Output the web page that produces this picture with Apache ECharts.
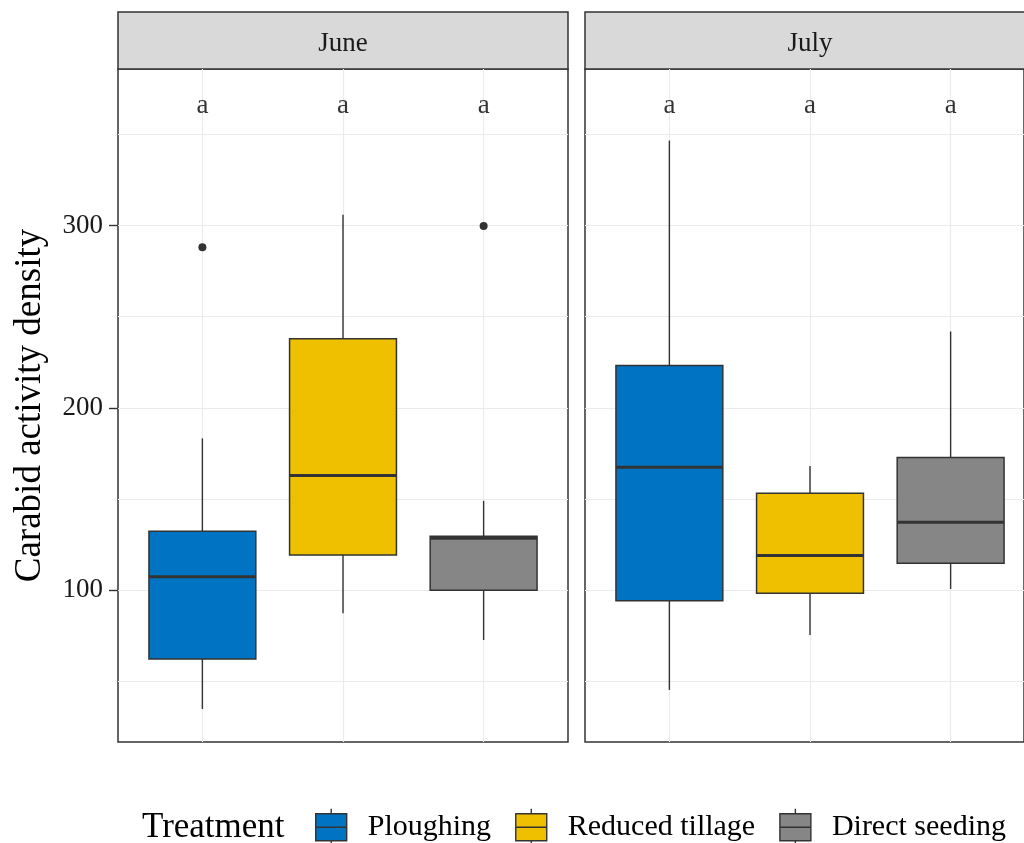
<!DOCTYPE html>
<html>
<head>
<meta charset="utf-8">
<script src="https://cdn.jsdelivr.net/npm/echarts@6/dist/echarts.min.js"></script>
<style>
  html, body { margin: 0; padding: 0; background: #ffffff; }
  #chart { width: 1024px; height: 843px; }
</style>
</head>
<body>
<div id="chart"></div>
<script>
// ---- data ----
const months = ['June', 'July'];
const treatments = ['Ploughing', 'Reduced tillage', 'Direct seeding'];
const treatmentColors = ['#0073C2', '#EFC000', '#868686'];
// per treatment: [lower whisker, Q1, median, Q3, upper whisker]
const juneStats = [
  [34.6, 62.1, 107.2, 132.2, 183.2],
  [87.2, 119.2, 162.8, 237.9, 306.0],
  [72.5, 99.8, 128.4, 129.4, 148.9]
];
const julyStats = [
  [45.1, 94.1, 167.4, 223.2, 346.7],
  [75.3, 98.2, 118.9, 153.1, 168.1],
  [100.5, 114.7, 137.2, 172.7, 241.9]
];
const juneOutliers = [['Ploughing', 288.2], ['Direct seeding', 299.8]];
const julyOutliers = [];
const juneLetters = ['a', 'a', 'a'];
const julyLetters = ['a', 'a', 'a'];
const letterLevel = 365.5;
const yTickValues = [100, 200, 300];
const yRange = [16.5, 386];

// ---- layout & style ----
const FONT = '"Liberation Serif", "Times New Roman", serif';
const INK = '#333333';
const GRID_LINE = '#EBEBEB';
const BOX_WIDTH = 0.76;            // fraction of category spacing
const PANEL_TOP = 69, PANEL_HEIGHT = 673, PANEL_WIDTH = 450;
const panelLefts = [118, 585];
const STRIP_TOP = 12;
const EXPAND = 0.6;                // discrete axis padding in category units
const unit = PANEL_WIDTH / (treatments.length - 1 + 2 * EXPAND);

const statsByMonth = [juneStats, julyStats];
const outliersByMonth = [juneOutliers, julyOutliers];
const lettersByMonth = [juneLetters, julyLetters];

const grids = [], xAxes = [], yAxes = [], series = [];

function renderBox(params, api) {
  const x = api.value(0);
  const lo = api.coord([x, api.value(1)]);
  const q1 = api.coord([x, api.value(2)]);
  const med = api.coord([x, api.value(3)]);
  const q3 = api.coord([x, api.value(4)]);
  const hi = api.coord([x, api.value(5)]);
  const half = api.size([1, 0])[0] * BOX_WIDTH / 2;
  const fill = api.visual('color');
  return {
    type: 'group',
    children: [
      { type: 'line', shape: { x1: lo[0], y1: lo[1], x2: q1[0], y2: q1[1] },
        style: { stroke: INK, lineWidth: 1.4 } },
      { type: 'line', shape: { x1: q3[0], y1: q3[1], x2: hi[0], y2: hi[1] },
        style: { stroke: INK, lineWidth: 1.4 } },
      { type: 'rect', shape: { x: q1[0] - half, y: q3[1], width: 2 * half, height: q1[1] - q3[1] },
        style: { fill: fill, stroke: INK, lineWidth: 1.5 } },
      { type: 'line', shape: { x1: med[0] - half, y1: med[1], x2: med[0] + half, y2: med[1] },
        style: { stroke: INK, lineWidth: 3 } }
    ]
  };
}

months.forEach((month, m) => {
  const left = panelLefts[m];
  const outer = grids.length;
  // panel frame + horizontal grid lines
  grids.push({ left: left, top: PANEL_TOP, width: PANEL_WIDTH, height: PANEL_HEIGHT,
    show: true, borderColor: INK, borderWidth: 1.5, backgroundColor: 'transparent' });
  // category positions
  grids.push({ left: left + EXPAND * unit, top: PANEL_TOP, width: unit * (treatments.length - 1),
    height: PANEL_HEIGHT });
  const inner = outer + 1;

  xAxes.push({ gridIndex: outer, type: 'value', min: 0, max: 1, show: false });
  xAxes.push({
    gridIndex: inner, type: 'category', data: treatments, boundaryGap: false,
    axisLine: { show: false }, axisTick: { show: false }, axisLabel: { show: false },
    splitLine: { show: true, lineStyle: { color: GRID_LINE, width: 1.2 } }
  });

  yAxes.push({
    gridIndex: outer, type: 'value', min: yRange[0], max: yRange[1], splitNumber: 7,
    position: 'left',
    axisLine: { show: false }, axisTick: { show: false }, axisLabel: { show: false },
    splitLine: { show: true, showMinLine: false, showMaxLine: false,
      lineStyle: { color: GRID_LINE, width: 1.1 } }
  });
  yAxes.push({ gridIndex: inner, type: 'value', min: yRange[0], max: yRange[1], show: false });

  if (m === 0) {
    yAxes.push({
      gridIndex: outer, type: 'value', min: yRange[0], max: yRange[1], position: 'left',
      axisLine: { show: false },
      axisTick: { show: true, customValues: yTickValues, length: 9,
        lineStyle: { color: INK, width: 1.4 } },
      axisLabel: { show: true, customValues: yTickValues, margin: 15,
        fontFamily: FONT, fontSize: 27, color: '#1a1a1a' },
      splitLine: { show: false },
      name: 'Carabid activity density', nameLocation: 'middle', nameGap: 69,
      nameTextStyle: { fontFamily: FONT, fontSize: 37, color: '#000000' }
    });
  }
  const yInner = yAxes.findIndex(a => a.gridIndex === inner);

  statsByMonth[m].forEach((s, t) => {
    series.push({
      name: treatments[t], type: 'custom', xAxisIndex: inner, yAxisIndex: yInner,
      itemStyle: { color: treatmentColors[t], borderColor: INK },
      encode: { x: 0, y: [1, 2, 3, 4, 5] },
      data: [[treatments[t]].concat(s)],
      renderItem: renderBox, silent: true, z: 3
    });
  });

  series.push({
    type: 'scatter', xAxisIndex: inner, yAxisIndex: yInner, silent: true, z: 4,
    symbolSize: 8, itemStyle: { color: INK, opacity: 1 },
    data: outliersByMonth[m]
  });

  series.push({
    type: 'scatter', xAxisIndex: inner, yAxisIndex: yInner, silent: true, z: 4,
    symbolSize: 1, itemStyle: { color: 'transparent' },
    label: { show: true, position: 'inside', formatter: '{b}',
      fontFamily: FONT, fontSize: 27, color: '#000000' },
    data: treatments.map((t, i) => ({ name: lettersByMonth[m][i], value: [t, letterLevel] }))
  });
});

// facet strips
const graphics = months.map((month, m) => ({
  type: 'group', silent: true,
  children: [
    { type: 'rect', shape: { x: panelLefts[m], y: STRIP_TOP, width: PANEL_WIDTH, height: PANEL_TOP - STRIP_TOP },
      style: { fill: '#D9D9D9', stroke: INK, lineWidth: 1.5 } },
    { type: 'text', x: panelLefts[m] + PANEL_WIDTH / 2, y: (STRIP_TOP + PANEL_TOP) / 2 + 3,
      style: { text: month, font: '27px ' + FONT, fill: '#1A1A1A', align: 'center', verticalAlign: 'middle' } }
  ]
}));

// box-shaped legend key: box, median and whisker stubs
const keyIcon = 'path://M0,5L31,5L31,32L0,32ZM0,18.5L31,18.5M15.5,0L15.5,5M15.5,32L15.5,37';

const option = {
  animation: false,
  backgroundColor: '#ffffff',
  title: {
    text: 'Treatment', left: 142, top: 810, padding: 0,
    textStyle: { fontFamily: FONT, fontSize: 35, fontWeight: 'normal', color: '#000000' }
  },
  legend: {
    data: treatments.map(t => ({ name: t, icon: keyIcon })),
    left: 315, top: 808, padding: 0,
    itemWidth: 31, itemHeight: 37, itemGap: 24, selectedMode: false,
    itemStyle: { borderColor: INK, borderWidth: 1.4 },
    textStyle: { fontFamily: FONT, fontSize: 30, color: '#000000', padding: [0, 0, 0, 16] }
  },
  grid: grids,
  xAxis: xAxes,
  yAxis: yAxes,
  series: series,
  graphic: graphics
};

const chart = echarts.init(document.getElementById('chart'), null, { renderer: 'canvas' });
chart.setOption(option);
</script>
</body>
</html>
